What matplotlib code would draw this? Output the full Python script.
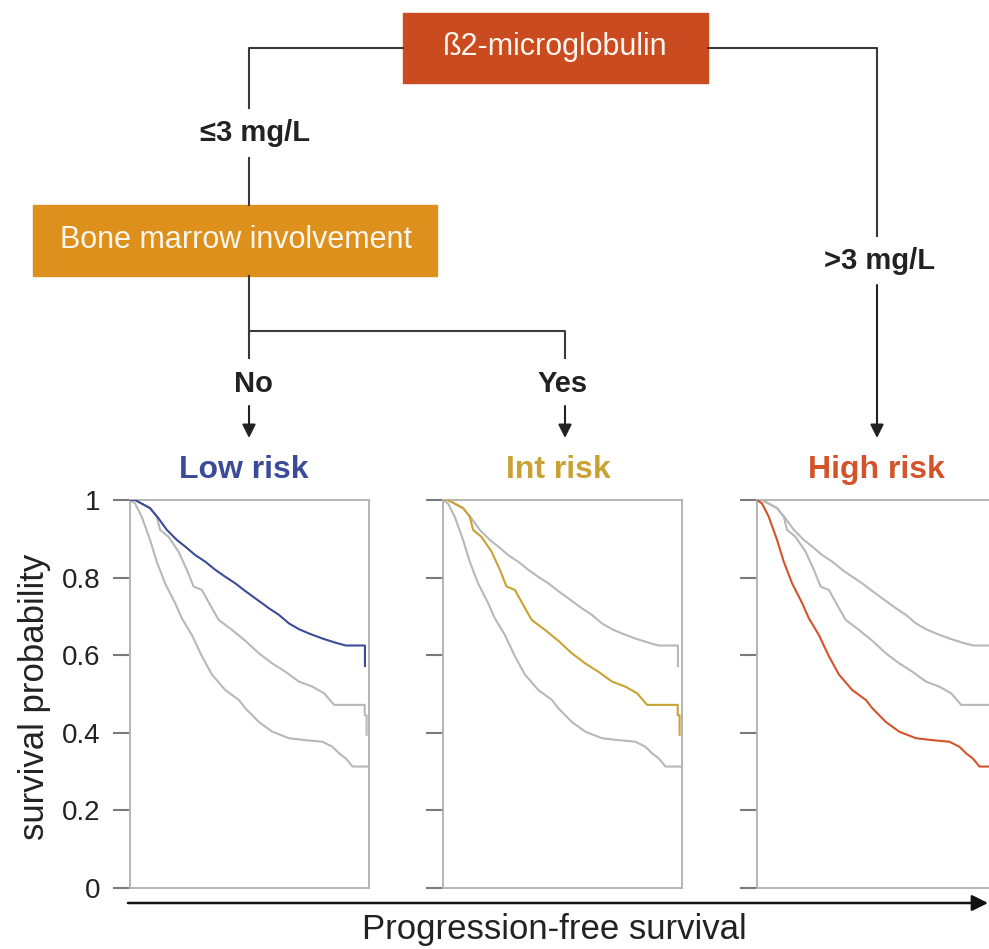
import matplotlib.pyplot as plt
from matplotlib.patches import Rectangle

plt.rcParams['font.family'] = ['Liberation Sans', 'DejaVu Sans']

# Kaplan-Meier curves (x = fraction of follow-up)
low_t = [0, 0.021, 0.084, 0.119, 0.154, 0.196, 0.231, 0.273, 0.315, 0.357, 0.399, 0.441,
         0.483, 0.539, 0.581, 0.623, 0.665, 0.707, 0.749, 0.805, 0.861, 0.903, 0.983, 0.983]
low_s = [1.0, 1.0, 0.979, 0.953, 0.923, 0.897, 0.880, 0.858, 0.841, 0.820, 0.802, 0.785,
         0.765, 0.740, 0.721, 0.704, 0.682, 0.667, 0.656, 0.643, 0.632, 0.625, 0.625, 0.572]

int_t = [0, 0.021, 0.084, 0.112, 0.126, 0.161, 0.203, 0.238, 0.266, 0.301, 0.336, 0.371,
         0.427, 0.483, 0.539, 0.595, 0.651, 0.707, 0.763, 0.812, 0.854, 0.982, 0.982, 0.99, 0.99]
int_s = [1.0, 1.0, 0.979, 0.957, 0.923, 0.905, 0.867, 0.820, 0.777, 0.768, 0.729, 0.691,
         0.665, 0.637, 0.605, 0.579, 0.557, 0.532, 0.519, 0.502, 0.472, 0.472, 0.445, 0.445, 0.395]

high_t = [0, 0.021, 0.049, 0.084, 0.112, 0.147, 0.189, 0.217, 0.259, 0.301, 0.343, 0.399,
          0.455, 0.483, 0.539, 0.595, 0.665, 0.735, 0.805, 0.847, 0.875, 0.903, 0.931, 0.994]
high_s = [1.0, 0.991, 0.957, 0.897, 0.841, 0.785, 0.734, 0.695, 0.652, 0.597, 0.550, 0.510,
          0.485, 0.463, 0.428, 0.403, 0.386, 0.381, 0.377, 0.364, 0.347, 0.334, 0.313, 0.313]

panel_titles = ['Low risk', 'Int risk', 'High risk']
panel_colors = ['#3b4b98', '#c9a233', '#d4532a']
yticks = [0, 0.2, 0.4, 0.6, 0.8, 1]
ytick_labels = ['0', '0.2', '0.4', '0.6', '0.8', '1']

W, H = 989, 949
fig = plt.figure(figsize=(W / 100, H / 100), dpi=100)

# overlay in pixel coordinates for the decision tree and labels
ov = fig.add_axes([0, 0, 1, 1])
ov.set_xlim(0, W)
ov.set_ylim(H, 0)
ov.axis('off')

lc = '#3a3a3a'
lw = 1.5

# top node
ov.add_patch(Rectangle((403, 13), 305, 70, color='#c94b1f'))
ov.text(555, 47, 'ß2-microglobulin', color='#fff6ee', fontsize=22, ha='center', va='center')

# left branch
ov.plot([403, 249, 249], [48, 48, 108], color=lc, lw=lw)
ov.text(255, 133, '≤3 mg/L', fontsize=21, fontweight='bold', color='#222222', ha='center', va='center')
ov.plot([249, 249], [158, 205], color=lc, lw=lw)

ov.add_patch(Rectangle((33, 205), 404, 71, color='#dd901c'))
ov.text(236, 240, 'Bone marrow involvement', color='#fff6ee', fontsize=22, ha='center', va='center')

ov.plot([249, 249], [276, 358], color=lc, lw=lw)
ov.plot([249, 565, 565], [331, 331, 358], color=lc, lw=lw)
ov.text(253, 384, 'No', fontsize=21, fontweight='bold', color='#222222', ha='center', va='center')
ov.text(563, 384, 'Yes', fontsize=21, fontweight='bold', color='#222222', ha='center', va='center')

arrow = dict(arrowstyle='-|>', color='#222222', lw=lw, mutation_scale=20, shrinkA=0, shrinkB=0)
ov.annotate('', xy=(249, 438), xytext=(249, 406), arrowprops=arrow)
ov.annotate('', xy=(565, 438), xytext=(565, 406), arrowprops=arrow)

# right branch
ov.plot([708, 877, 877], [48, 48, 236], color=lc, lw=lw)
ov.text(880, 261, '>3 mg/L', fontsize=21, fontweight='bold', color='#222222', ha='center', va='center')
ov.annotate('', xy=(877, 438), xytext=(877, 285), arrowprops=arrow)

# panel titles
title_x = [244, 558, 876]
for tx, title, col in zip(title_x, panel_titles, panel_colors):
    ov.text(tx, 470, title, color=col, fontsize=23, fontweight='bold', ha='center', va='center')

# x axis arrow and labels
ov.annotate('', xy=(988, 903), xytext=(128, 903), annotation_clip=False,
            arrowprops=dict(arrowstyle='-|>', color='#111111', lw=1.8, mutation_scale=24,
                            shrinkA=0, shrinkB=0))
ov.text(554, 929, 'Progression-free survival', fontsize=25, color='#222222', ha='center', va='center')
ov.text(35, 697, 'survival probability', fontsize=25, color='#222222', rotation=90,
        ha='center', va='center')

# survival panels
curves = [(low_t, low_s), (int_t, int_s), (high_t, high_s)]
lefts = [130, 443, 757]
for i, left in enumerate(lefts):
    ax = fig.add_axes([left / W, (H - 888) / H, 239 / W, 388 / H])
    for j, (t, s) in enumerate(curves):
        if j != i:
            ax.plot(t, s, color='#b8b8b8', lw=1.5)
    t, s = curves[i]
    ax.plot(t, s, color=panel_colors[i], lw=1.5, zorder=3)
    ax.set_xlim(0, 1)
    ax.set_ylim(0, 1)
    for sp in ax.spines.values():
        sp.set_color('#b4b4b4')
        sp.set_linewidth(1.4)
    ax.set_xticks([])
    ax.set_yticks(yticks)
    ax.tick_params(axis='y', length=12, width=1.5, color='#7a7a7a', pad=9,
                   labelsize=20, labelcolor='#222222')
    if i == 0:
        ax.set_yticklabels(ytick_labels)
    else:
        ax.set_yticklabels([])

fig.savefig('out.png', dpi=100)
